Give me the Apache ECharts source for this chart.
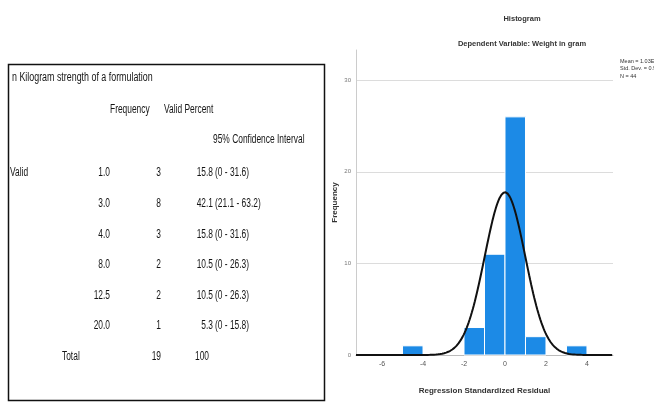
<!DOCTYPE html>
<html>
<head>
<meta charset="utf-8">
<script src="https://cdn.jsdelivr.net/npm/echarts@6/dist/echarts.min.js"></script>
<style>
  html, body { margin: 0; padding: 0; background: #fff; }
  #chart { width: 654px; height: 403px; }
</style>
</head>
<body>
<div id="chart"></div>
<script>
// Frequency table: tensile strength of a formulation
const tableTitle = 'n Kilogram strength of a formulation';
const strengthValues = ['1.0', '3.0', '4.0', '8.0', '12.5', '20.0'];
const frequencies = [3, 8, 3, 2, 2, 1];
const validPercent = ['15.8', '42.1', '15.8', '10.5', '10.5', '5.3'];
const ciLow = ['0', '21.1', '0', '0', '0', '0'];
const ciHigh = ['31.6', '63.2', '31.6', '26.3', '26.3', '15.8'];
const totalFrequency = '19';
const totalPercent = '100';

// Histogram of regression standardized residuals
const binStart = [-5, -2, -1, 0, 1, 3];
const binEnd = [-4, -1, 0, 1, 2, 4];
const binCount = [1, 3, 11, 26, 2, 1];
const residMean = 1.03e-15;
const residSd = 0.988;
const residN = 44;
const statLines = ['Mean = 1.03E-15', 'Std. Dev. = 0.988', 'N = 44'];

const xMin = -7.27, xMax = 5.27;

// Fitted normal curve scaled to counts (bin width 1)
const curve = [];
for (let x = xMin; x <= xMax + 1e-9; x += 0.05) {
  const z = (x - residMean) / residSd;
  curve.push([x, residN / (residSd * Math.sqrt(2 * Math.PI)) * Math.exp(-0.5 * z * z)]);
}

const binData = binStart.map((s, i) => [s, binEnd[i], binCount[i]]);

// Table text as graphic elements (horizontally condensed)
const tFont = 'Liberation Sans, Arial, sans-serif';
const sx = 0.7;
function cell(text, x, y, align, extra) {
  return Object.assign({
    type: 'text', x: x, y: y, scaleX: sx,
    style: { text: text, fill: '#151515', font: '12px ' + tFont, align: align || 'left', verticalAlign: 'middle' }
  }, extra || {});
}
const tableEls = [];
tableEls.push({ type: 'rect', shape: { x: 8.5, y: 64.5, width: 316, height: 336 }, style: { fill: 'none', stroke: '#111', lineWidth: 1.5 } });
tableEls.push(cell(tableTitle, 12, 78, 'left', { scaleX: 0.74 }));
tableEls.push(cell('Frequency', 110, 110));
tableEls.push(cell('Valid Percent', 164, 110));
tableEls.push(cell('95% Confidence Interval', 213, 140));
tableEls.push(cell('Valid', 10, 173));
const rowY0 = 173, rowStep = 30.6;
strengthValues.forEach((v, i) => {
  const y = rowY0 + i * rowStep;
  tableEls.push(cell(v, 110, y, 'right'));
  tableEls.push(cell(String(frequencies[i]), 161, y, 'right'));
  tableEls.push(cell(validPercent[i], 213, y, 'right'));
  tableEls.push(cell('(' + ciLow[i] + ' - ' + ciHigh[i] + ')', 215, y, 'left'));
});
const totalY = rowY0 + strengthValues.length * rowStep;
tableEls.push(cell('Total', 62, totalY));
tableEls.push(cell(totalFrequency, 161, totalY, 'right'));
tableEls.push(cell(totalPercent, 195, totalY, 'left'));

// Statistics box text
statLines.forEach((t, i) => {
  tableEls.push({
    type: 'text', x: 620, y: 61 + i * 7.5,
    style: { text: t, fill: '#333', font: '5.5px ' + tFont, verticalAlign: 'middle' }
  });
});

const chart = echarts.init(document.getElementById('chart'), null, { renderer: 'canvas' });
chart.setOption({
  animation: false,
  backgroundColor: '#fff',
  title: [
    { text: 'Histogram', left: 517, top: 10, textAlign: 'center',
      textStyle: { fontSize: 7.5, fontWeight: 'bold', color: '#333', fontFamily: tFont } },
    { text: 'Dependent Variable: Weight in gram', left: 517, top: 35, textAlign: 'center',
      textStyle: { fontSize: 7.5, fontWeight: 'bold', color: '#333', fontFamily: tFont } }
  ],
  grid: { left: 356, right: 41, top: 50, bottom: 48, containLabel: false },
  xAxis: {
    type: 'value', min: xMin, max: xMax, splitNumber: 6, minInterval: 2, maxInterval: 2,
    name: 'Regression Standardized Residual', nameLocation: 'middle', nameGap: 32,
    nameTextStyle: { fontSize: 8, fontWeight: 'bold', color: '#333', fontFamily: tFont },
    axisLine: { show: true, lineStyle: { color: '#bbb' } },
    axisTick: { show: false },
    splitLine: { show: false },
    axisLabel: { fontSize: 7, color: '#555', margin: 6, showMinLabel: false, showMaxLabel: false, fontFamily: tFont }
  },
  yAxis: {
    type: 'value', min: 0, max: 33.3, interval: 10,
    name: 'Frequency', nameLocation: 'middle', nameGap: 17, nameRotate: 90,
    nameTextStyle: { fontSize: 8, fontWeight: 'bold', color: '#333', fontFamily: tFont },
    axisLine: { show: true, onZero: false, lineStyle: { color: '#ccc' } },
    axisTick: { show: false },
    splitLine: { show: true, showMaxLine: false, lineStyle: { color: '#dcdcdc', width: 1 } },
    axisLabel: { fontSize: 6, color: '#777', margin: 5, showMaxLabel: false, fontFamily: tFont }
  },
  series: [
    {
      type: 'custom',
      data: binData,
      renderItem: function (params, api) {
        const p0 = api.coord([api.value(0), api.value(2)]);
        const p1 = api.coord([api.value(1), 0]);
        return {
          type: 'rect',
          shape: { x: p0[0], y: p0[1], width: p1[0] - p0[0], height: p1[1] - p0[1] },
          style: { fill: '#1c8ae6', stroke: '#fff', lineWidth: 1 }
        };
      },
      encode: { x: [0, 1], y: 2 },
      z: 2
    },
    {
      type: 'line',
      data: curve,
      showSymbol: false,
      lineStyle: { color: '#111', width: 2 },
      z: 3
    }
  ],
  graphic: tableEls
});
</script>
</body>
</html>
